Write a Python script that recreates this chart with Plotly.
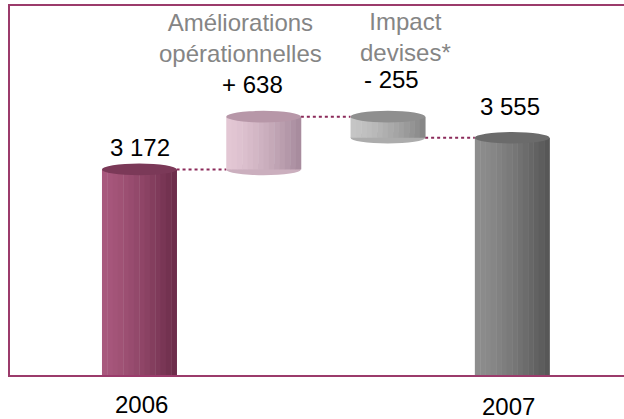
import plotly.graph_objects as go

# ---- data ----
categories = ["2006", "Améliorations<br>opérationnelles", "Impact<br>devises*", "2007"]
measures = ["absolute", "relative", "relative", "total"]
values = [3172, 638, -255, 3555]

# ---- style ----
light_cols = ["#a9587d", "#e4c8d5", "#c6c6c6", "#8e8e8e"]
dark_cols = ["#6a2b48", "#a5899b", "#848484", "#545454"]
cap_cols = ["#7b3958", "#b797a8", "#8f8f8f", "#6b6b6b"]
label_top = [False, True, True, False]
BAR_W = 0.6
N_STRIPS = 14
CAP_H = 70  # half-height of ellipse caps in value units
FONT = "Liberation Sans"


def hex2rgb(h):
    h = h.lstrip("#")
    return tuple(int(h[i:i + 2], 16) for i in (0, 2, 4))


def mix(a, b, t):
    ra, rb = hex2rgb(a), hex2rgb(b)
    return "rgb(%d,%d,%d)" % tuple(round(ra[i] + (rb[i] - ra[i]) * t) for i in range(3))


# compute bar bases / tops from measures
xs = list(range(len(categories)))
bases, tops = [], []
running = 0
for m, v in zip(measures, values):
    if m == "absolute":
        b, t = 0, v
        running = v
    elif m == "relative":
        b, t = running, running + v
        running += v
    else:
        b, t = 0, running
    bases.append(min(b, t))
    tops.append(max(b, t))
heights = [t - b for b, t in zip(bases, tops)]

fig = go.Figure()

# waterfall used for the dotted connectors
fig.add_trace(go.Waterfall(
    x=xs, y=[values[0], values[1], values[2], 0], measure=measures,
    width=BAR_W,
    increasing=dict(marker=dict(color="rgba(0,0,0,0)", line=dict(width=0))),
    decreasing=dict(marker=dict(color="rgba(0,0,0,0)", line=dict(width=0))),
    totals=dict(marker=dict(color="rgba(0,0,0,0)", line=dict(width=0))),
    connector=dict(line=dict(color="#8b2a5a", width=2, dash="dot")),
    textinfo="none", hoverinfo="skip", showlegend=False,
))

# cylinder bodies as shaded vertical strips
sw = BAR_W / N_STRIPS
for k in range(N_STRIPS):
    t = (k + 0.5) / N_STRIPS
    tt = t ** 1.4
    cols = [mix(light_cols[i], dark_cols[i], tt) for i in xs]
    fig.add_trace(go.Bar(
        x=xs, y=heights, base=bases, width=sw * 1.08, offset=-BAR_W / 2 + k * sw,
        marker=dict(color=cols, line=dict(width=0)),
        hoverinfo="skip", showlegend=False,
    ))

shapes = []
for i in xs:
    # top cap
    shapes.append(dict(type="circle", xref="x", yref="y", layer="above",
                       x0=i - BAR_W / 2, x1=i + BAR_W / 2,
                       y0=tops[i] - CAP_H, y1=tops[i] + CAP_H,
                       fillcolor=cap_cols[i], line=dict(width=0)))
    # bottom rim for floating bars
    if bases[i] > 0:
        shapes.append(dict(type="circle", xref="x", yref="y", layer="below",
                           x0=i - BAR_W / 2, x1=i + BAR_W / 2,
                           y0=bases[i] - CAP_H, y1=bases[i] + CAP_H,
                           fillcolor=mix(light_cols[i], dark_cols[i], 0.4),
                           line=dict(width=0)))

annotations = []
# value labels
val_shift = [22, 32, 37, 31]
val_xshift = [1, -11, 4, -2]
for i, (m, v) in enumerate(zip(measures, values)):
    if m == "relative":
        txt = ("+ " if v > 0 else "- ") + f"{abs(v):,}".replace(",", " ")
    else:
        txt = f"{v:,}".replace(",", " ")
    annotations.append(dict(x=i, y=tops[i], xref="x", yref="y", text=txt,
                            showarrow=False, yanchor="middle", yshift=val_shift[i],
                            xshift=val_xshift[i],
                            font=dict(family=FONT, size=24, color="#000000")))
# category labels
cat_y = [-0.08, 0.912, 0.916, -0.086]
cat_xshift = [2, -23, 18, -4]
for i, c in enumerate(categories):
    annotations.append(dict(x=i, y=cat_y[i], xref="x", yref="paper", text=c,
                            showarrow=False, yanchor="middle", xshift=cat_xshift[i],
                            font=dict(family=FONT, size=24,
                                      color="#858585" if label_top[i] else "#000000")))

fig.update_layout(
    width=624, height=419,
    margin=dict(l=10, r=0, t=6, b=44),
    paper_bgcolor="white", plot_bgcolor="rgba(0,0,0,0)",
    barmode="overlay",
    shapes=shapes, annotations=annotations,
    xaxis=dict(range=[-1.04, 3.9], showticklabels=False, showgrid=False, zeroline=False,
               showline=True, linecolor="#9b3b6b", linewidth=2, mirror=True, ticks=""),
    yaxis=dict(range=[686, 5148], showticklabels=False, showgrid=False, zeroline=False,
               showline=True, linecolor="#9b3b6b", linewidth=2, ticks=""),
)

fig.write_html("out.html", config={"displayModeBar": False},
               post_script="document.body.style.margin='0px';")
